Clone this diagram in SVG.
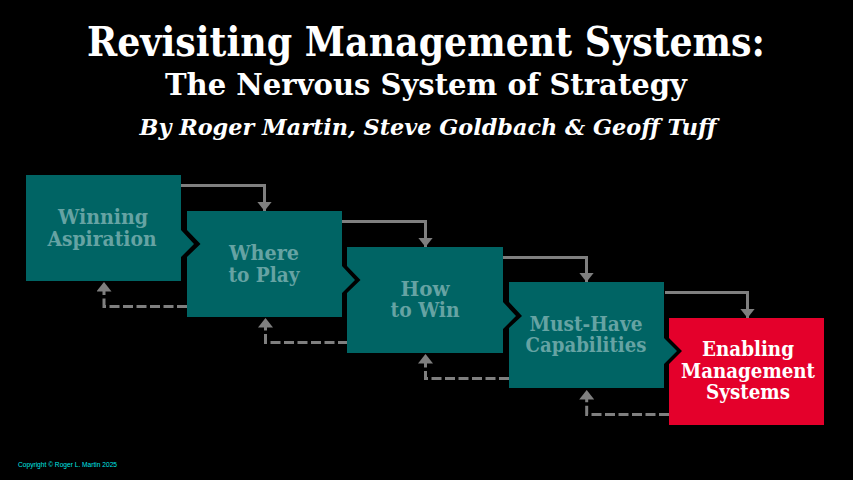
<svg xmlns="http://www.w3.org/2000/svg" width="853" height="480" viewBox="0 0 853 480">
<defs>
<marker id="ah" markerUnits="userSpaceOnUse" markerWidth="10" markerHeight="15" refX="9.500" refY="7.500" orient="auto"><path d="M0 0L9.500 7.500L0 15Z" fill="#7f7f7f"/></marker>
</defs>
<style>
.t{font-family:"DejaVu Serif Condensed","DejaVu Serif",serif;font-weight:700;text-anchor:middle;fill:#fff}
.n{font-family:"DejaVu Serif Condensed","DejaVu Serif",serif;font-weight:700;text-anchor:middle;font-size:20px;fill:#66a3a3}
.c{fill:none;stroke:#7f7f7f;stroke-width:3}
.d{stroke-dasharray:10 3.500}
.b{fill:#006464}
#n5 text{fill:#fff}
</style>
<rect width="853" height="480" fill="#000"/>
<text class="t" x="426" y="56" font-size="41" textLength="678" lengthAdjust="spacingAndGlyphs">Revisiting Management Systems:</text>
<text class="t" x="426" y="95" font-size="30" textLength="522" lengthAdjust="spacingAndGlyphs">The Nervous System of Strategy</text>
<text class="t" x="428" y="135" font-size="23" font-style="italic" textLength="577" lengthAdjust="spacingAndGlyphs">By Roger Martin, Steve Goldbach &amp; Geoff Tuff</text>
<g id="connectors">
<path class="c" marker-end="url(#ah)" d="M181 185.500H264.500V211"/>
<path class="c" marker-end="url(#ah)" d="M342 221.500H425.500V247"/>
<path class="c" marker-end="url(#ah)" d="M503 257.500H586.500V282"/>
<path class="c" marker-end="url(#ah)" d="M665 292.500H747.500V318"/>
<path class="c d" marker-end="url(#ah)" d="M187 306.500H104V282"/>
<path class="c d" marker-end="url(#ah)" d="M348 342.500H265.500V318"/>
<path class="c d" marker-end="url(#ah)" d="M509 378.500H425.500V354"/>
<path class="c d" marker-end="url(#ah)" d="M669 414.500H586.700V390"/>
</g>
<g id="n1"><path class="b" d="M26 175H181V230L194 244L181 257V281H26Z"/><text class="n" x="103" y="224" textLength="90" lengthAdjust="spacingAndGlyphs">Winning</text><text class="n" x="102" y="246" textLength="109" lengthAdjust="spacingAndGlyphs">Aspiration</text></g>
<g id="n2"><path class="b" d="M187 211H342V266L355 280L342 293V317H187V257L200.500 244L187 230Z"/><text class="n" x="264" y="260" textLength="70" lengthAdjust="spacingAndGlyphs">Where</text><text class="n" x="264" y="282" textLength="71" lengthAdjust="spacingAndGlyphs">to Play</text></g>
<g id="n3"><path class="b" d="M347 247H503V302L516 316L503 329V353H347V293L360.500 280L347 266Z"/><text class="n" x="425" y="296" textLength="49" lengthAdjust="spacingAndGlyphs">How</text><text class="n" x="425" y="317" textLength="69" lengthAdjust="spacingAndGlyphs">to Win</text></g>
<g id="n4"><path class="b" d="M509 282H664V338L677 351L664 364V388H509V328L522 316L509 302Z"/><text class="n" x="586" y="331" textLength="113" lengthAdjust="spacingAndGlyphs">Must-Have</text><text class="n" x="586" y="352" textLength="121" lengthAdjust="spacingAndGlyphs">Capabilities</text></g>
<g id="n5"><path fill="#e4002b" d="M669 318H824V425H669V364L682 351L669 338Z"/><text class="n" x="748" y="356" textLength="92" lengthAdjust="spacingAndGlyphs">Enabling</text><text class="n" x="748" y="378" textLength="134" lengthAdjust="spacingAndGlyphs">Management</text><text class="n" x="748" y="399" textLength="84" lengthAdjust="spacingAndGlyphs">Systems</text></g>
<text x="18" y="467" font-family="Liberation Sans, sans-serif" font-size="7.500" fill="#00e5e5" textLength="99" lengthAdjust="spacingAndGlyphs">Copyright © Roger L. Martin 2025</text>
</svg>
